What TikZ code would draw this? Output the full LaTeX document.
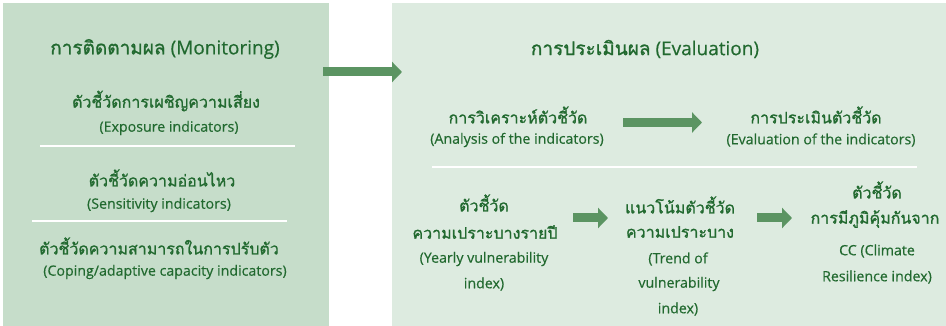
\documentclass[tikz,border=0pt]{standalone}
\usepackage{fontspec}
\setmainfont[FakeBold=0.4]{Open Sans}
\newfontfamily\thaifont[Script=Thai,FakeBold=1.2]{Loma}
\usetikzlibrary{arrows.meta}
\definecolor{boxA}{HTML}{C6DDCA}
\definecolor{boxB}{HTML}{DDEBE0}
\definecolor{txt}{HTML}{21692F}
\definecolor{arr}{HTML}{5B9462}
\newcommand{\tha}[1]{{\thaifont #1}}
\tikzset{
  panel/.style={draw=none,inner sep=0pt,anchor=north west},
  ttl/.style={text=txt,font=\fontsize{19}{22}\selectfont,inner sep=0pt},
  th/.style={text=txt,font=\thaifont\fontsize{16}{20}\selectfont,inner sep=0pt},
  en/.style={text=txt,font=\fontsize{14.2}{16}\selectfont,inner sep=0pt},
  sep/.style={draw=white,line width=2pt},
  bigarrow/.style={draw=arr,line width=9pt,-{Triangle[length=10pt,width=20pt]}},
  smallarrow/.style={draw=arr,line width=9pt,-{Triangle[length=10pt,width=20pt]}},
}
\begin{document}
\begin{tikzpicture}[x=1pt,y=-1pt]
\useasboundingbox (0,0) rectangle (946,326);
\fill[white] (0,0) rectangle (946,326);
% panels
\fill[boxA] (3,3) rectangle (329,326);
\fill[boxB] (392,3) rectangle (946,326);
\node[panel,minimum width=326,minimum height=323] (mon) at (3,3) {};
\node[panel,minimum width=554,minimum height=323] (eva) at (392,3) {};
% left texts
\node[ttl] (montitle) at (165,49) {\tha{การติดตามผล} (Monitoring)};
\node[th] (exp) at (166,101) {ตัวชี้วัดการเผชิญความเสี่ยง};
\node[en] (expen) at (169,128) {(Exposure indicators)};
\coordinate (s1a) at (40,146); \coordinate (s1b) at (295,146);
\draw[sep] (s1a) -- (s1b);
\node[th] (sen) at (162,178) {ตัวชี้วัดความอ่อนไหว};
\node[en] (senen) at (159,205) {(Sensitivity indicators)};
\coordinate (s2a) at (32,221); \coordinate (s2b) at (287,221);
\draw[sep] (s2a) -- (s2b);
\node[th] (cop) at (159,246) {ตัวชี้วัดความสามารถในการปรับตัว};
\node[en] (copen) at (165,272) {(Coping/adaptive capacity indicators)};
% big arrow
\coordinate (ba) at (323,72); \coordinate (bb) at (402,72);
\draw[bigarrow] (ba) -- (bb);
% right texts
\node[ttl] (evatitle) at (645,49) {\tha{การประเมินผล} (Evaluation)};
\node[th] (ana) at (518,115) {การวิเคราะห์ตัวชี้วัด};
\node[en] (anaen) at (517,140) {(Analysis of the indicators)};
\node[th] (evi) at (816,115) {การประเมินตัวชี้วัด};
\node[en] (evien) at (821,140) {(Evaluation of the indicators)};
\coordinate (a1a) at (623,122.5); \coordinate (a1b) at (702,122.5);
\draw[smallarrow] (a1a) -- (a1b);
\coordinate (s3a) at (432,167); \coordinate (s3b) at (917,167);
\draw[sep] (s3a) -- (s3b);
% bottom row
\node[th] (yr1) at (484,203) {ตัวชี้วัด};
\node[th] (yr2) at (485,232) {ความเปราะบางรายปี};
\node[en] (yr3) at (484,259) {(Yearly vulnerability};
\node[en] (yr4) at (484,284) {index)};
\node[th] (tr1) at (680,205) {แนวโน้มตัวชี้วัด};
\node[th] (tr2) at (680,232) {ความเปราะบาง};
\node[en] (tr3) at (678,259) {(Trend of};
\node[en] (tr4) at (679,284) {vulnerability};
\node[en] (tr5) at (678,309) {index)};
\node[th] (cr1) at (877,190) {ตัวชี้วัด};
\node[th] (cr2) at (875,219) {การมีภูมิคุ้มกันจาก};
\node[en] (cr3) at (877,251) {CC (Climate};
\node[en] (cr4) at (877,277) {Resilience index)};
\coordinate (a2a) at (573,218); \coordinate (a2b) at (608,218);
\draw[smallarrow] (a2a) -- (a2b);
\coordinate (a3a) at (757,218); \coordinate (a3b) at (792,218);
\draw[smallarrow] (a3a) -- (a3b);
\end{tikzpicture}
\end{document}
